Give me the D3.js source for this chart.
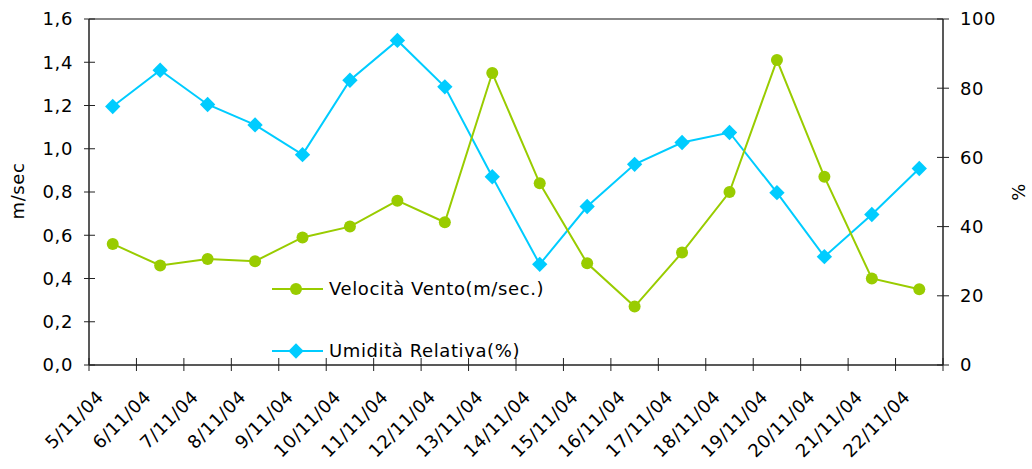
<!DOCTYPE html>
<html>
<head>
<script src="https://d3js.org/d3.v7.min.js"></script>
<style>
  body { margin: 0; background: #fff; }
  text { font-family: "DejaVu Sans", sans-serif; fill: #000; font-size: 18px; letter-spacing: 0.6px; }
</style>
</head>
<body>
<script>
// categories and values
var days = ["5/11/04","6/11/04","7/11/04","8/11/04","9/11/04","10/11/04","11/11/04","12/11/04","13/11/04",
            "14/11/04","15/11/04","16/11/04","17/11/04","18/11/04","19/11/04","20/11/04","21/11/04","22/11/04"];
var vento = [0.56,0.46,0.49,0.48,0.59,0.64,0.76,0.66,1.35,0.84,0.47,0.27,0.52,0.80,1.41,0.87,0.40,0.35];
var umidita = [74.7,85.2,75.3,69.4,60.8,82.3,93.8,80.4,54.4,29.1,45.8,58.0,64.3,67.2,49.8,31.3,43.5,56.8];
var leftTicks = [0,0.2,0.4,0.6,0.8,1.0,1.2,1.4,1.6];
var rightTicks = [0,20,40,60,80,100];

var W = 1032, H = 469;
var margin = {top: 19, right: 89, bottom: 104, left: 89};
var width = W - margin.left - margin.right,
    height = H - margin.top - margin.bottom;

var svg = d3.select("body").append("svg")
    .attr("width", W).attr("height", H)
  .append("g")
    .attr("transform", "translate(" + margin.left + "," + margin.top + ")");

var x = d3.scaleBand().domain(days).range([0, width]);
var yL = d3.scaleLinear().domain([0, 1.6]).range([height, 0]);
var yR = d3.scaleLinear().domain([0, 100]).range([height, 0]);

var green = "#99cc00", blue = "#00ccff";
var fmt = d3.format(".1f");

// top border of plot area
svg.append("line").attr("x1", 0).attr("x2", width).attr("y1", 0).attr("y2", 0)
   .attr("stroke", "#888").attr("stroke-width", 2);

// left axis
var gL = svg.append("g");
gL.append("line").attr("x1", 0).attr("x2", 0).attr("y1", 0).attr("y2", height).attr("stroke", "#222").attr("stroke-width", 1.5);
gL.selectAll(".t").data(leftTicks).enter().append("line")
  .attr("x1", -5).attr("x2", 6).attr("y1", function(d){return yL(d);}).attr("y2", function(d){return yL(d);})
  .attr("stroke", "#222");
gL.selectAll("text").data(leftTicks).enter().append("text")
  .attr("x", -16).attr("y", function(d){return yL(d);}).attr("dy", "0.35em")
  .attr("text-anchor", "end")
  .text(function(d){ return fmt(d).replace(".", ","); });

// right axis
var gR = svg.append("g").attr("transform", "translate(" + width + ",0)");
gR.append("line").attr("x1", 0).attr("x2", 0).attr("y1", 0).attr("y2", height).attr("stroke", "#222").attr("stroke-width", 1.5);
gR.selectAll(".t").data(rightTicks).enter().append("line")
  .attr("x1", -6).attr("x2", 6).attr("y1", function(d){return yR(d);}).attr("y2", function(d){return yR(d);})
  .attr("stroke", "#222");
gR.selectAll("text").data(rightTicks).enter().append("text")
  .attr("x", 17).attr("y", function(d){return yR(d);}).attr("dy", "0.35em")
  .text(function(d){ return d; });

// bottom axis
var gB = svg.append("g").attr("transform", "translate(0," + height + ")");
gB.append("line").attr("x1", 0).attr("x2", width).attr("stroke", "#222").attr("stroke-width", 1.5);
var edges = days.map(function(d){ return x(d); }).concat([width]);
gB.selectAll(".t").data(edges).enter().append("line")
  .attr("x1", function(d){return d;}).attr("x2", function(d){return d;})
  .attr("y1", -7).attr("y2", 6).attr("stroke", "#222");
gB.selectAll("text").data(days).enter().append("text")
  .attr("text-anchor", "end")
  .attr("transform", function(d){
     return "translate(" + (x(d) + x.bandwidth()/2 - 8) + ",33) rotate(-45)";
  })
  .text(function(d){ return d; });

// axis titles
svg.append("text").attr("transform", "translate(" + (-65) + "," + (height/2 - 1) + ") rotate(-90)")
   .attr("text-anchor", "middle").text("m/sec");
svg.append("text").attr("transform", "translate(" + (width + 82) + "," + (height/2) + ") rotate(-90)")
   .attr("text-anchor", "middle").text("%");

var cx = function(d, i){ return x(days[i]) + x.bandwidth()/2; };

// humidity line
svg.append("path").datum(umidita)
  .attr("fill", "none").attr("stroke", blue).attr("stroke-width", 2)
  .attr("d", d3.line().x(cx).y(function(d){ return yR(d); }));
svg.selectAll(".dia").data(umidita).enter().append("path")
  .attr("d", d3.symbol().type(d3.symbolDiamond2).size(150))
  .attr("fill", blue)
  .attr("transform", function(d, i){ return "translate(" + cx(d, i) + "," + yR(d) + ")"; });

// wind line
svg.append("path").datum(vento)
  .attr("fill", "none").attr("stroke", green).attr("stroke-width", 2)
  .attr("d", d3.line().x(cx).y(function(d){ return yL(d); }));
svg.selectAll(".dot").data(vento).enter().append("circle")
  .attr("cx", cx).attr("cy", function(d){ return yL(d); }).attr("r", 6)
  .attr("fill", green);

// legend
var legend = [
  {name: "Velocità Vento(m/sec.)", color: green, shape: "circle", y: 289},
  {name: "Umidità Relativa(%)", color: blue, shape: "diamond", y: 351}
];
var lg = svg.append("g").attr("transform", "translate(" + (-margin.left) + "," + (-margin.top) + ")");
legend.forEach(function(l){
  lg.append("line").attr("x1", 272).attr("x2", 323).attr("y1", l.y).attr("y2", l.y)
    .attr("stroke", l.color).attr("stroke-width", 2);
  if (l.shape === "circle") {
    lg.append("circle").attr("cx", 296).attr("cy", l.y).attr("r", 6).attr("fill", l.color);
  } else {
    lg.append("path").attr("d", d3.symbol().type(d3.symbolDiamond2).size(150))
      .attr("fill", l.color).attr("transform", "translate(296," + l.y + ")");
  }
  lg.append("text").attr("x", 329).attr("y", l.y).attr("dy", "0.35em").text(l.name);
});
</script>
</body>
</html>
